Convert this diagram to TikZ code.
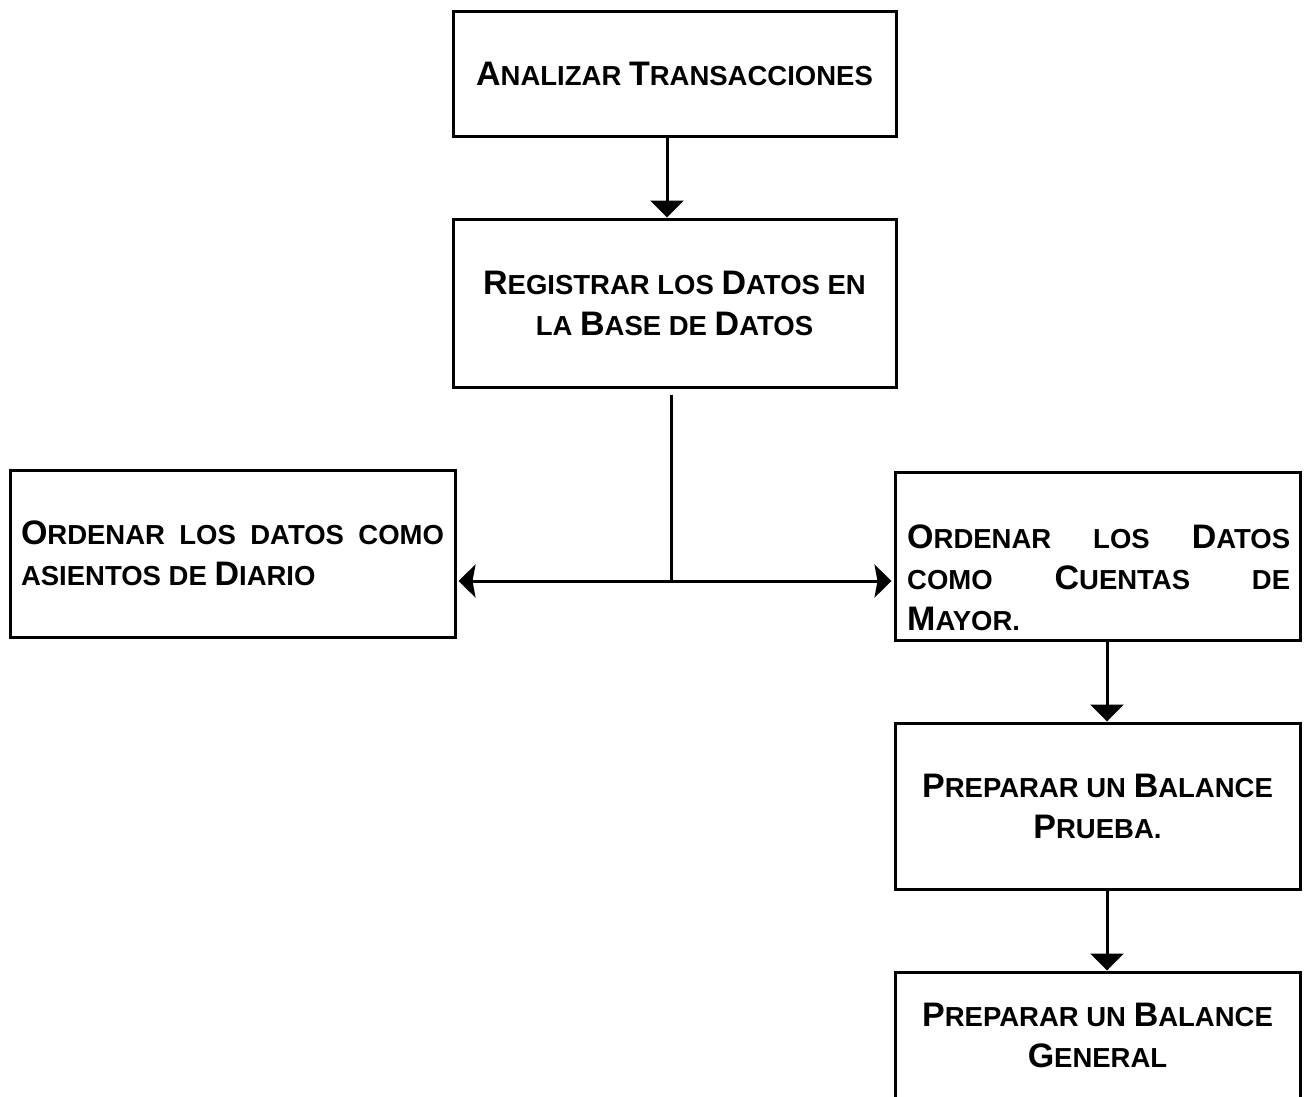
\documentclass[tikz,border=0pt]{standalone}
\usepackage{fontspec}
\setmainfont{Liberation Sans}
\usetikzlibrary{arrows.meta}
\tolerance=10000
\hyphenpenalty=10000
\exhyphenpenalty=10000
\hfuzz=20pt
\newcommand\Bg[1]{{\fontsize{34}{41}\selectfont #1}}
\tikzset{
  box/.style={draw, line width=3pt, minimum width=405pt, minimum height=168pt, inner sep=0pt,
              font=\fontsize{27.5}{41}\selectfont\bfseries, align=center},
  lbl/.style={font=\fontsize{27.5}{41}\selectfont\bfseries, inner sep=0pt},
  conn/.style={line width=3pt},
  arr/.style={line width=3pt, -{Triangle[length=17pt,width=33pt]}},
  harr/.style={line width=3pt, {Stealth[length=17pt,width=33pt,inset=3pt]}-{Stealth[length=17pt,width=33pt,inset=3pt]},
               shorten <=2pt, shorten >=2pt}
}
\begin{document}
\begin{tikzpicture}[x=1pt,y=-1pt]
\useasboundingbox (0,0) rectangle (1305,1096);
\fill[white] (0,0) rectangle (1305,1096);
\begin{scope}
\clip (0,0) rectangle (1305,1096);
\node[box, minimum width=443pt, minimum height=125pt] (A) at (674.5,73.5)
  {\Bg{A}NALIZAR \Bg{T}RANSACCIONES};
\node[box, minimum width=443pt] (B) at (674.5,303)
  {\Bg{R}EGISTRAR LOS \Bg{D}ATOS EN\\LA \Bg{B}ASE DE \Bg{D}ATOS};
\node[box, minimum width=445pt, minimum height=167pt, text width=423pt, align=justify] (C) at (232.5,553.5)
  {\Bg{O}RDENAR LOS DATOS COMO\linebreak ASIENTOS DE \Bg{D}IARIO};
\node[box] (D) at (1097.5,556) {};
\node[lbl, text width=383pt, align=justify, anchor=north west] (tD) at (907,524.5)
  {\Bg{O}RDENAR LOS \Bg{D}ATOS\linebreak COMO \Bg{C}UENTAS DE\linebreak \Bg{M}AYOR.};
\node[box, minimum height=166pt] (E) at (1097.5,806)
  {\Bg{P}REPARAR UN \Bg{B}ALANCE\\\Bg{P}RUEBA.};
\node[box] (F) at (1097.5,1056)
  {\Bg{P}REPARAR UN \Bg{B}ALANCE\\\Bg{G}ENERAL\\[0pt]\phantom{X}};
\end{scope}
\draw[arr] ([xshift=-7.5pt]A.south) -- ([xshift=-7.5pt]B.north);
\coordinate (j) at (671,581);
\draw[conn] ([xshift=-3.5pt,yshift=-6pt]B.south) -- (j);
\draw[harr] (j -| C.east) -- (j -| D.west);
\draw[arr] ([xshift=9.5pt]D.south) -- ([xshift=9.5pt]E.north);
\draw[arr] ([xshift=9.5pt]E.south) -- ([xshift=9.5pt]F.north);
\end{tikzpicture}
\end{document}
